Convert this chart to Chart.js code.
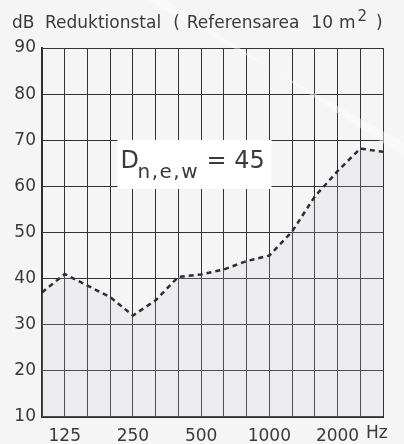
<!DOCTYPE html>
<html>
<head>
<meta charset="utf-8">
<script src="https://cdn.jsdelivr.net/npm/chart.js@4.4.1/dist/chart.umd.min.js"></script>
<style>
  html, body { margin: 0; padding: 0; background: #f5f5f5; }
  #wrap { width: 404px; height: 444px; }
</style>
</head>
<body>
<div id="wrap"><canvas id="chart"></canvas></div>
<script>
// third-octave bands 100 .. 3150 Hz
const bands = ['100', '125', '160', '200', '250', '315', '400', '500', '630', '800', '1000', '1250', '1600', '2000', '2500', '3150'];
const shownBands = ['125', '250', '500', '1000', '2000'];
// reduction index, dB
const reduction = [37, 41, 38.5, 36, 32, 35.3, 40.4, 40.9, 42, 43.8, 45, 50.2, 57.8, 63.3, 68.2, 67.5];
const yTicks = [10, 20, 30, 40, 50, 60, 70, 80, 90];
const ratingLabel = 'n,e,w';
const ratingValue = 45;

const FONT = '"DejaVu Sans", sans-serif';
const INK = '#3a3a3a';

// stripe, title, annotation box and Hz label
const decor = {
    id: 'decor',
    afterDraw(chart) {
        const { ctx, chartArea: a } = chart;
        ctx.save();

        // faint white diagonal stripe
        ctx.fillStyle = 'rgba(255,255,255,0.45)';
        ctx.beginPath();
        ctx.moveTo(147, 0);
        ctx.lineTo(167, 0);
        ctx.lineTo(404, 157);
        ctx.lineTo(404, 143);
        ctx.closePath();
        ctx.fill();

        ctx.fillStyle = INK;
        ctx.textBaseline = 'alphabetic';
        ctx.textAlign = 'left';

        // title, pieces placed one after another
        ctx.font = '17px ' + FONT;
        let x = 12;
        const put = (txt, gap, y = 28) => {
            ctx.fillText(txt, x, y);
            x += ctx.measureText(txt).width + gap;
        };
        put('dB', 0);
        x = 45;
        put('Reduktionstal', 12);
        put('(', 7);
        put('Referensarea', 12);
        put('10', 6);
        put('m', 2);
        ctx.font = '15px ' + FONT;
        put('2', 9, 21);
        ctx.font = '17px ' + FONT;
        put(')', 0);

        // Hz
        ctx.fillText('Hz', 366, 438);

        // rating box
        const bx = a.left + 75.5, by = a.top + 92;
        ctx.fillStyle = '#ffffff';
        ctx.fillRect(bx, by, 154, 49);
        ctx.fillStyle = INK;
        ctx.font = '24px ' + FONT;
        ctx.fillText('D', bx + 3, by + 28);
        ctx.font = '20px ' + FONT;
        ctx.letterSpacing = '1.5px';
        ctx.fillText(ratingLabel, bx + 20, by + 38);
        ctx.letterSpacing = '0px';
        ctx.font = '24px ' + FONT;
        ctx.fillText('= ' + ratingValue, bx + 89, by + 28);
        ctx.restore();
    }
};

new Chart(document.getElementById('chart'), {
    type: 'line',
    data: {
        labels: bands,
        datasets: [{
            data: reduction,
            borderColor: '#2e2e2e',
            borderWidth: 2.5,
            borderDash: [5, 4],
            backgroundColor: 'rgba(200,200,212,0.2)',
            fill: 'start',
            pointRadius: 0,
            tension: 0
        }]
    },
    options: {
        responsive: true,
        maintainAspectRatio: false,
        animation: false,
        layout: { padding: { top: 48, right: 21, left: 0, bottom: 0 } },
        plugins: { legend: { display: false }, tooltip: { enabled: false } },
        scales: {
            x: {
                offset: false,
                grid: { color: '#333', lineWidth: 1, drawTicks: false, offset: false },
                border: { color: '#2e2e2e', width: 2 },
                ticks: {
                    autoSkip: false,
                    maxRotation: 0,
                    padding: 9,
                    color: INK,
                    font: { family: FONT, size: 17 },
                    callback: (v, i) => shownBands.includes(bands[i]) ? bands[i] : ''
                },
                afterFit: s => { s.height = 27; }
            },
            y: {
                min: 10,
                max: 90,
                grid: { color: '#333', lineWidth: 1, drawTicks: false },
                border: { color: '#2e2e2e', width: 2 },
                ticks: {
                    stepSize: 5,
                    padding: 6,
                    color: INK,
                    font: { family: FONT, size: 17 },
                    callback: v => yTicks.includes(v) ? String(v) : ''
                },
                afterFit: s => { s.width = 42; }
            }
        }
    },
    plugins: [decor]
});
</script>
</body>
</html>
